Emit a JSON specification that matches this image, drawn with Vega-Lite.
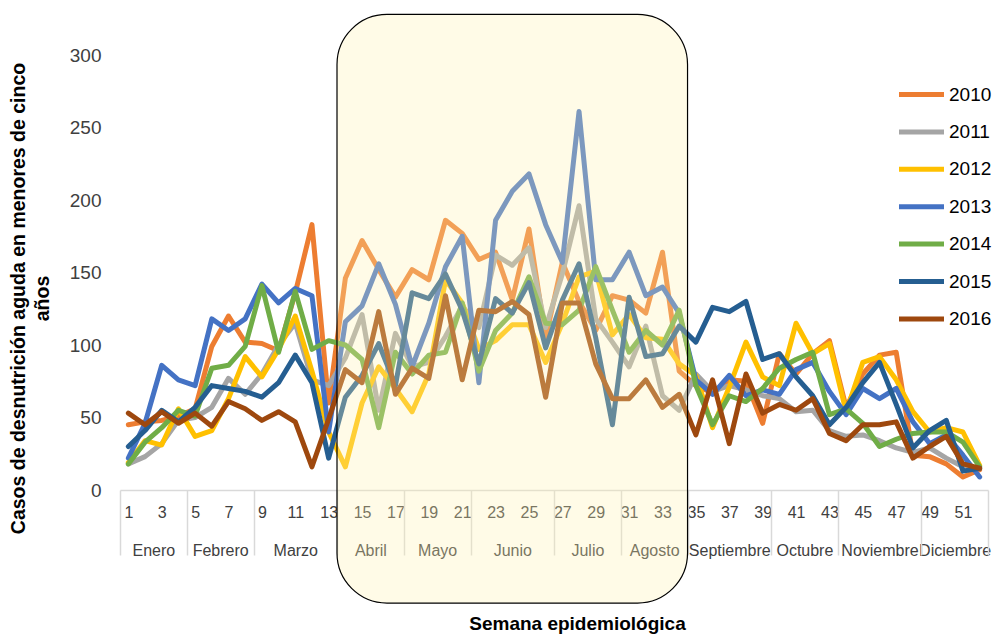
{
  "$schema": "https://vega.github.io/schema/vega-lite/v6.json",
  "width": 868,
  "height": 435,
  "autosize": "none",
  "padding": {"left": 120, "top": 55, "right": 7, "bottom": 145},
  "background": "white",
  "config": {
    "view": {"stroke": null},
    "font": "Liberation Sans",
    "axis": {"labelFont": "Liberation Sans", "titleFont": "Liberation Sans", "grid": false}
  },
  "datasets": {
    "weekly": [
      {"week": 1, "2010": 45, "2011": 18, "2012": 19, "2013": 22, "2014": 18, "2015": 30, "2016": 53},
      {"week": 2, "2010": 47, "2011": 23, "2012": 34, "2013": 46, "2014": 33, "2015": 41, "2016": 45},
      {"week": 3, "2010": 48, "2011": 32, "2012": 31, "2013": 86, "2014": 43, "2015": 55, "2016": 54},
      {"week": 4, "2010": 51, "2011": 48, "2012": 56, "2013": 76, "2014": 55, "2015": 47, "2016": 46},
      {"week": 5, "2010": 56, "2011": 50, "2012": 37, "2013": 72, "2014": 51, "2015": 57, "2016": 53},
      {"week": 6, "2010": 99, "2011": 57, "2012": 41, "2013": 118, "2014": 84, "2015": 72, "2016": 44},
      {"week": 7, "2010": 120, "2011": 77, "2012": 63, "2013": 110, "2014": 86, "2015": 70, "2016": 61},
      {"week": 8, "2010": 102, "2011": 66, "2012": 92, "2013": 118, "2014": 99, "2015": 68, "2016": 56},
      {"week": 9, "2010": 101, "2011": 80, "2012": 78, "2013": 142, "2014": 141, "2015": 64, "2016": 48},
      {"week": 10, "2010": 96, "2011": 100, "2012": 97, "2013": 129, "2014": 95, "2015": 74, "2016": 54},
      {"week": 11, "2010": 136, "2011": 115, "2012": 120, "2013": 139, "2014": 137, "2015": 93, "2016": 47},
      {"week": 12, "2010": 183, "2011": 76, "2012": 82, "2013": 134, "2014": 97, "2015": 74, "2016": 16},
      {"week": 13, "2010": 60, "2011": 72, "2012": 40, "2013": 40, "2014": 103, "2015": 22, "2016": 49},
      {"week": 14, "2010": 146, "2011": 91, "2012": 16, "2013": 116, "2014": 100, "2015": 64, "2016": 83},
      {"week": 15, "2010": 172, "2011": 121, "2012": 60, "2013": 127, "2014": 90, "2015": 79, "2016": 74},
      {"week": 16, "2010": 152, "2011": 55, "2012": 85, "2013": 156, "2014": 43, "2015": 101, "2016": 123},
      {"week": 17, "2010": 133, "2011": 108, "2012": 70, "2013": 128, "2014": 95, "2015": 72, "2016": 66},
      {"week": 18, "2010": 152, "2011": 85, "2012": 54, "2013": 85, "2014": 80, "2015": 136, "2016": 84},
      {"week": 19, "2010": 145, "2011": 88, "2012": 80, "2013": 115, "2014": 93, "2015": 132, "2016": 77},
      {"week": 20, "2010": 186, "2011": 106, "2012": 145, "2013": 154, "2014": 95, "2015": 149, "2016": 134},
      {"week": 21, "2010": 177, "2011": 127, "2012": 129, "2013": 175, "2014": 129, "2015": 124, "2016": 76},
      {"week": 22, "2010": 159, "2011": 112, "2012": 97, "2013": 74, "2014": 82, "2015": 87, "2016": 124},
      {"week": 23, "2010": 164, "2011": 162, "2012": 103, "2013": 186, "2014": 110, "2015": 132, "2016": 123},
      {"week": 24, "2010": 131, "2011": 155, "2012": 114, "2013": 206, "2014": 122, "2015": 122, "2016": 130},
      {"week": 25, "2010": 180, "2011": 167, "2012": 114, "2013": 218, "2014": 147, "2015": 143, "2016": 121},
      {"week": 26, "2010": 105, "2011": 112, "2012": 88, "2013": 183, "2014": 115, "2015": 98, "2016": 64},
      {"week": 27, "2010": 157, "2011": 149, "2012": 115, "2013": 157, "2014": 114, "2015": 131, "2016": 129},
      {"week": 28, "2010": 130, "2011": 196, "2012": 147, "2013": 261, "2014": 124, "2015": 156, "2016": 129},
      {"week": 29, "2010": 110, "2011": 118, "2012": 151, "2013": 145, "2014": 154, "2015": 105, "2016": 87},
      {"week": 30, "2010": 134, "2011": 102, "2012": 107, "2013": 145, "2014": 124, "2015": 45, "2016": 63},
      {"week": 31, "2010": 131, "2011": 85, "2012": 121, "2013": 164, "2014": 95, "2015": 133, "2016": 63},
      {"week": 32, "2010": 122, "2011": 113, "2012": 105, "2013": 134, "2014": 110, "2015": 92, "2016": 76},
      {"week": 33, "2010": 164, "2011": 65, "2012": 104, "2013": 140, "2014": 100, "2015": 94, "2016": 57},
      {"week": 34, "2010": 82, "2011": 55, "2012": 87, "2013": 122, "2014": 124, "2015": 113, "2016": 66},
      {"week": 35, "2010": 72, "2011": 80, "2012": 79, "2013": 76, "2014": 72, "2015": 102, "2016": 38},
      {"week": 36, "2010": 67, "2011": 68, "2012": 43, "2013": 66, "2014": 45, "2015": 126, "2016": 76},
      {"week": 37, "2010": 76, "2011": 72, "2012": 71, "2013": 79, "2014": 65, "2015": 123, "2016": 32},
      {"week": 38, "2010": 75, "2011": 69, "2012": 102, "2013": 65, "2014": 61, "2015": 130, "2016": 80},
      {"week": 39, "2010": 46, "2011": 65, "2012": 78, "2013": 69, "2014": 70, "2015": 90, "2016": 53},
      {"week": 40, "2010": 94, "2011": 63, "2012": 72, "2013": 66, "2014": 84, "2015": 94, "2016": 59},
      {"week": 41, "2010": 80, "2011": 54, "2012": 115, "2013": 83, "2014": 90, "2015": 78, "2016": 55},
      {"week": 42, "2010": 94, "2011": 55, "2012": 94, "2013": 88, "2014": 95, "2015": 65, "2016": 63},
      {"week": 43, "2010": 103, "2011": 41, "2012": 101, "2013": 68, "2014": 52, "2015": 45, "2016": 39},
      {"week": 44, "2010": 57, "2011": 37, "2012": 54, "2013": 52, "2014": 56, "2015": 57, "2016": 34},
      {"week": 45, "2010": 80, "2011": 38, "2012": 88, "2013": 70, "2014": 46, "2015": 74, "2016": 45},
      {"week": 46, "2010": 93, "2011": 34, "2012": 92, "2013": 63, "2014": 30, "2015": 88, "2016": 45},
      {"week": 47, "2010": 95, "2011": 29, "2012": 76, "2013": 70, "2014": 35, "2015": 59, "2016": 47},
      {"week": 48, "2010": 24, "2011": 26, "2012": 54, "2013": 47, "2014": 39, "2015": 29, "2016": 22},
      {"week": 49, "2010": 23, "2011": 29, "2012": 40, "2013": 32, "2014": 40, "2015": 41, "2016": 30},
      {"week": 50, "2010": 18, "2011": 22, "2012": 43, "2013": 38, "2014": 40, "2015": 48, "2016": 37},
      {"week": 51, "2010": 9, "2011": 16, "2012": 40, "2013": 24, "2014": 33, "2015": 13, "2016": 18},
      {"week": 52, "2010": 14, "2011": 15, "2012": 17, "2013": 9, "2014": 16, "2015": 15, "2016": 15}
    ],
    "highlight": [{"period": "Abril-Agosto"}]
  },
  "layer": [
    {
      "data": {"name": "weekly"},
      "transform": [
        {"fold": ["2010", "2011", "2012", "2013", "2014", "2015", "2016"], "as": ["year", "cases"]}
      ],
      "mark": {"type": "line", "strokeWidth": 5, "strokeCap": "round", "strokeJoin": "round"},
      "encoding": {
        "x": {
          "field": "week", "type": "quantitative",
          "scale": {"domain": [0.5, 52.5], "nice": false, "zero": false},
          "axis": {
            "orient": "bottom",
            "values": [1, 3, 5, 7, 9, 11, 13, 15, 17, 19, 21, 23, 25, 27, 29, 31, 33, 35, 37, 39, 41, 43, 45, 47, 49, 51],
            "ticks": false, "tickSize": 0, "domainColor": "#D9D9D9", "domainWidth": 1.5,
            "labelFontSize": 16, "labelColor": "#404040", "labelPadding": 14,
            "labelFlush": false, "labelOverlap": false,
            "title": "Semana epidemiológica", "titleFontSize": 19, "titleFontWeight": "bold",
            "titleColor": "#000000", "titleX": 457, "titleY": 133, "titleAlign": "center", "titleBaseline": "middle"
          }
        },
        "y": {
          "field": "cases", "type": "quantitative",
          "scale": {"domain": [0, 300], "nice": false},
          "axis": {
            "orient": "left",
            "values": [0, 50, 100, 150, 200, 250, 300],
            "domain": false, "ticks": false, "tickSize": 0,
            "labelFontSize": 19, "labelColor": "#404040", "labelPadding": 19,
            "title": ["Casos de desnutrición aguda en menores de cinco", "años"],
            "titleFontSize": 19.5, "titleFontWeight": "bold", "titleColor": "#000000",
            "titleAngle": -90, "titleX": -111, "titleY": 243, "titleAlign": "center",
            "titleBaseline": "top", "titleLineHeight": 24
          }
        },
        "color": {
          "field": "year", "type": "nominal",
          "scale": {
            "domain": ["2010", "2011", "2012", "2013", "2014", "2015", "2016"],
            "range": ["#ED7D31", "#A5A5A5", "#FFC000", "#4472C4", "#70AD47", "#255E91", "#9E480E"]
          },
          "legend": {
            "title": null, "orient": "none", "legendX": 790, "legendY": 28,
            "symbolType": "M-2.5,0H2.5", "symbolSize": 324, "symbolStrokeWidth": 5,
            "labelFontSize": 19, "labelColor": "#000000", "labelOffset": 16,
            "rowPadding": 15.4, "padding": 0
          }
        }
      }
    },
    {
      "data": {"name": "highlight"},
      "mark": {
        "type": "rect", "cornerRadius": 50, "fill": "#FFF3B0", "fillOpacity": 0.3,
        "stroke": "#000000", "strokeWidth": 1.2, "clip": false
      },
      "encoding": {
        "x": {
          "datum": 13.5, "type": "quantitative",
          "scale": {"domain": [0.5, 52.5], "nice": false, "zero": false},
          "axis": {
            "orient": "bottom",
            "values": [2.5, 6.5, 11, 15.5, 19.5, 24, 28.5, 32.5, 37, 41.5, 46, 50.5],
            "labelExpr": "['Enero','Febrero','Marzo','Abril','Mayo','Junio','Julio','Agosto','Septiembre','Octubre','Noviembre','Diciembre'][indexof([2.5,6.5,11,15.5,19.5,24,28.5,32.5,37,41.5,46,50.5], datum.value)]",
            "domain": false, "ticks": false, "tickSize": 0,
            "labelFontSize": 16, "labelColor": "#404040", "labelPadding": 52,
            "labelFlush": false, "labelOverlap": false, "title": null
          }
        },
        "x2": {"datum": 34.5},
        "y": {"datum": 328, "type": "quantitative", "scale": {"domain": [0, 300], "nice": false}, "axis": null},
        "y2": {"datum": -78}
      }
    },
    {
      "data": {"name": "highlight"},
      "mark": {"type": "rule", "opacity": 0},
      "encoding": {
        "x": {
          "datum": 0.5, "type": "quantitative",
          "scale": {"domain": [0.5, 52.5], "nice": false, "zero": false},
          "axis": {
            "orient": "bottom",
            "values": [0.5, 4.5, 8.5, 13.5, 17.5, 21.5, 26.5, 30.5, 34.5, 39.5, 43.5, 48.5, 52.5],
            "domain": false, "labels": false, "ticks": true, "tickSize": 65,
            "tickColor": "#D9D9D9", "tickWidth": 1.5, "title": null
          }
        }
      }
    }
  ],
  "resolve": {"axis": {"x": "independent", "y": "independent"}}
}
